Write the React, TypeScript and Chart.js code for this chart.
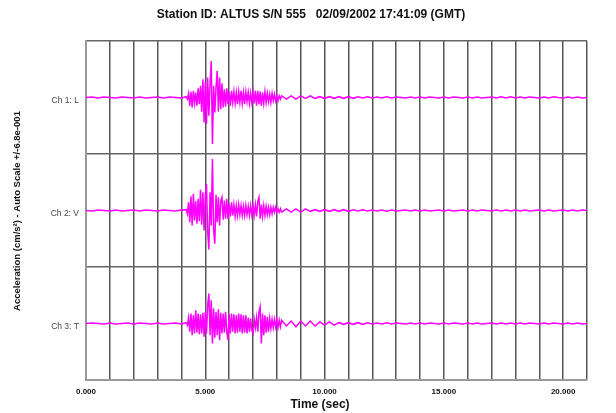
import React, { useEffect, useRef } from "react";
import { Chart, registerables } from "chart.js";

Chart.register(...registerables);

// ---- text ----
const TITLE = "Station ID: ALTUS S/N 555   02/09/2002 17:41:09 (GMT)";
const X_TITLE = "Time (sec)";
const Y_TITLE = "Acceleration (cm/s²) - Auto Scale +/-6.8e-001";
const CHANNELS = ["Ch 1: L", "Ch 2: V", "Ch 3: T"];

// ---- axes ----
const X_MIN = 0;
const X_MAX = 21;
const X_LABEL_EVERY = 5;
const HALF_RANGE = 0.68; // auto scale +/- per channel (cm/s²)

// sampling segments of the record (start time, sample interval, sample count)
const SEGMENTS = [
  { start: 0, step: 0.25, count: 17 },
  { start: 4.2, step: 0.05, count: 80 },
  { start: 8.2, step: 0.2, count: 65 },
];

// ---- acceleration values (cm/s²) ----
const PRE_L = [0, 0.005, -0.005, 0.005, 0, -0.005, 0.005, 0, -0.005, 0.005, -0.005, 0, 0.005, -0.005, 0.005, 0, -0.005];
const MAIN_L = [
  0.01, -0.02, 0.05, -0.10, 0.07, -0.12, 0.08, -0.07, 0.06, -0.10,
  0.11, -0.08, 0.14, -0.17, 0.22, -0.30, 0.19, -0.32, 0.24, -0.22,
  0.17, 0.44, -0.56, 0.14, -0.18, 0.12, 0.32, -0.17, 0.24, -0.14,
  0.17, -0.12, 0.10, -0.11, 0.11, -0.08, 0.07, -0.10, 0.08, -0.06,
  0.07, -0.07, 0.06, -0.08, 0.07, -0.06, 0.08, -0.07, 0.06, -0.08,
  0.07, -0.05, 0.06, -0.07, 0.05, -0.06, 0.07, -0.07, 0.08, -0.10,
  0.08, -0.08, 0.07, -0.10, 0.06, -0.07, 0.07, -0.06, 0.05, -0.05,
  0.04, -0.06, 0.05, -0.04, 0.04, -0.04, 0.02, -0.04, 0.02, -0.02,
];
const TAIL_L = [
  0.02, -0.02, 0.02, -0.02, 0.02, -0.01, 0.02, -0.01, 0.01, -0.01,
  0.01, -0.01, 0.01, -0.01, 0.01, -0.01, 0.01, -0.005, 0.01, -0.005,
  0.005, -0.005, 0.01, -0.005, 0.005, 0, -0.005, 0.005, -0.005, 0.005,
  -0.005, 0.005, 0, -0.005, 0.005, -0.005, 0.005, 0, -0.005, 0.005,
  -0.005, 0.005, -0.005, 0, 0.005, -0.005, 0.01, -0.005, 0.01, -0.005,
  0.005, -0.005, 0.005, 0, -0.005, 0.005, -0.005, 0.01, 0, -0.005,
  0.005, -0.005, 0.005, -0.005, 0,
];

const PRE_V = [0, -0.005, 0.005, 0, -0.005, 0.005, -0.005, 0, 0.005, -0.005, 0.005, 0, -0.005, 0.005, 0, -0.005, 0.005];
const MAIN_V = [
  0.01, -0.04, 0.10, -0.14, 0.17, -0.18, 0.20, -0.12, 0.11, -0.16,
  0.14, -0.13, 0.25, -0.17, 0.22, -0.24, 0.18, 0.32, -0.26, -0.47,
  0.22, -0.18, 0.62, -0.24, -0.40, 0.19, -0.14, 0.16, -0.18, 0.12,
  0.16, -0.11, 0.12, -0.10, 0.14, -0.10, 0.08, -0.07, 0.10, -0.06,
  0.07, -0.07, 0.06, -0.06, 0.07, -0.05, 0.06, -0.06, 0.05, -0.06,
  0.06, -0.05, 0.05, -0.06, 0.06, -0.05, 0.05, -0.06, 0.07, -0.07,
  0.11, 0.16, -0.10, 0.07, -0.07, 0.06, -0.06, 0.05, -0.05, 0.04,
  -0.05, 0.04, -0.04, 0.04, -0.02, 0.04, -0.02, 0.02, -0.02, 0.02,
];
const TAIL_V = [
  -0.02, 0.02, -0.02, 0.02, -0.02, 0.02, -0.01, 0.01, -0.01, 0.01,
  -0.01, 0.01, -0.01, 0.01, -0.01, 0.01, -0.005, 0.01, -0.005, 0.005,
  -0.005, 0.005, -0.01, 0.005, -0.005, 0, 0.005, -0.005, 0.005, -0.005,
  0.005, -0.005, 0, 0.005, -0.005, 0.005, -0.005, 0, 0.005, -0.005,
  0.005, -0.005, 0.005, 0, -0.005, 0.005, -0.005, 0.005, -0.005, 0.005,
  -0.005, 0.005, -0.005, 0, 0.005, -0.005, 0.005, -0.005, 0, 0.005,
  -0.005, 0.005, -0.005, 0.005, 0,
];

const PRE_T = [0, 0.005, 0, -0.005, 0.005, -0.005, 0, 0.005, -0.005, 0.005, 0, -0.005, 0.005, -0.005, 0, 0.005, -0.005];
const MAIN_T = [
  0.01, -0.02, 0.07, -0.10, 0.12, -0.14, 0.10, -0.12, 0.16, -0.11,
  0.12, -0.13, 0.11, -0.12, 0.13, -0.16, 0.14, -0.12, 0.22, 0.36,
  -0.14, 0.28, -0.24, 0.18, -0.17, 0.14, -0.14, 0.17, -0.20, 0.13,
  -0.12, 0.12, -0.11, 0.14, -0.10, -0.20, 0.11, -0.12, 0.12, -0.10,
  0.11, -0.12, 0.10, -0.11, 0.12, -0.10, 0.11, -0.12, 0.10, -0.11,
  0.10, -0.12, 0.07, -0.10, 0.06, -0.08, -0.12, 0.05, -0.05, 0.07,
  -0.10, 0.14, 0.20, -0.24, 0.12, -0.14, 0.10, -0.11, 0.08, -0.10,
  0.06, -0.06, 0.05, -0.05, 0.05, -0.04, 0.05, -0.05, 0.04, -0.04,
];
const TAIL_T = [
  0.04, -0.03, 0.03, -0.04, 0.03, -0.03, 0.03, -0.03, 0.02, -0.02,
  0.02, -0.02, 0.01, -0.01, 0.01, -0.01, 0.01, -0.01, 0.01, -0.005,
  0.005, -0.005, 0.01, -0.005, 0.005, 0, -0.005, 0.005, -0.005, 0.005,
  -0.005, 0.005, 0, -0.005, 0.005, -0.005, 0.005, 0, -0.005, 0.005,
  -0.005, 0.005, -0.005, 0, 0.005, -0.005, 0.005, -0.005, 0.005, -0.005,
  0.005, -0.005, 0.005, 0, -0.005, 0.005, -0.005, 0.005, 0, -0.005,
  0.005, -0.005, 0.005, -0.005, 0,
];

const SERIES = [
  [...PRE_L, ...MAIN_L, ...TAIL_L],
  [...PRE_V, ...MAIN_V, ...TAIL_V],
  [...PRE_T, ...MAIN_T, ...TAIL_T],
];

const FONT = "'Liberation Sans', Arial, sans-serif";

export default function App() {
  const ref = useRef<HTMLCanvasElement | null>(null);

  useEffect(() => {
    const canvas = ref.current;
    if (!canvas) return;

    const times: number[] = [];
    SEGMENTS.forEach((s) => {
      for (let k = 0; k < s.count; k++) times.push(+(s.start + k * s.step).toFixed(3));
    });

    const PANEL = HALF_RANGE * 2;
    const n = CHANNELS.length;
    const yMin = -HALF_RANGE;
    const yMax = yMin + n * PANEL;

    const datasets = SERIES.map((vals, i) => {
      const offset = (n - 1 - i) * PANEL;
      return {
        label: CHANNELS[i],
        data: times.map((t, k) => ({ x: t, y: (vals[k] ?? 0) + offset })),
        borderColor: "#ff00ff",
        borderWidth: 1.5,
        pointRadius: 0,
        tension: 0,
        fill: false,
      };
    });

    const textPlugin = {
      id: "texts",
      afterDraw(chart: any) {
        const ctx = chart.ctx as CanvasRenderingContext2D;
        ctx.save();
        ctx.fillStyle = "#111";
        ctx.textAlign = "center";
        ctx.textBaseline = "middle";
        ctx.font = `bold 12px ${FONT}`;
        ctx.fillText(TITLE, 311, 15);
        ctx.font = `bold 12px ${FONT}`;
        ctx.fillText(X_TITLE, 320, 405);
        ctx.translate(17, 211);
        ctx.rotate(-Math.PI / 2);
        ctx.font = `bold 9.5px ${FONT}`;
        ctx.fillText(Y_TITLE, 0, 0);
        ctx.restore();
      },
    };

    const chart = new Chart(canvas, {
      type: "line",
      data: { datasets: datasets as any },
      plugins: [textPlugin],
      options: {
        animation: false,
        responsive: false,
        parsing: true,
        layout: { padding: { top: 41, right: 29, left: 0, bottom: 0 } },
        plugins: {
          legend: { display: false },
          title: { display: false },
          tooltip: { enabled: false },
        },
        scales: {
          x: {
            type: "linear",
            min: X_MIN,
            max: X_MAX,
            afterFit: (s: any) => {
              s.height = 33;
            },
            border: { display: true, color: "#999", width: 2 },
            grid: { color: "#555", lineWidth: 1.5, drawTicks: false },
            ticks: {
              stepSize: 1,
              autoSkip: false,
              maxRotation: 0,
              padding: 7,
              color: "#111",
              font: { family: FONT, size: 8, weight: "bold" },
              callback: (v: any) => (Number(v) % X_LABEL_EVERY === 0 ? Number(v).toFixed(3) : ""),
            },
          },
          y: {
            type: "linear",
            min: yMin,
            max: yMax,
            afterFit: (s: any) => {
              s.width = 86;
            },
            afterBuildTicks: (s: any) => {
              const ticks: any[] = [];
              for (let k = 0; k <= 2 * n; k++) ticks.push({ value: yMin + (k * PANEL) / 2 });
              s.ticks = ticks;
            },
            border: { display: true, color: "#999", width: 2 },
            grid: {
              color: (c: any) => (c.index % 2 === 0 ? "#666" : "rgba(0,0,0,0)"),
              lineWidth: 1.5,
              drawTicks: false,
            },
            ticks: {
              autoSkip: false,
              padding: 7,
              labelOffset: 3,
              color: "#444",
              font: { family: FONT, size: 8.5 },
              callback: (_v: any, idx: number) => {
                if (idx % 2 === 0) return "";
                const ch = n - 1 - (idx - 1) / 2;
                return CHANNELS[ch];
              },
            },
          },
        },
      },
    });

    return () => chart.destroy();
  }, []);

  return (
    <div style={{ position: "fixed", left: 0, top: 0, width: 616, height: 413, background: "#fff" }}>
      <canvas ref={ref} width={616} height={413} style={{ display: "block", width: 616, height: 413 }} />
    </div>
  );
}
